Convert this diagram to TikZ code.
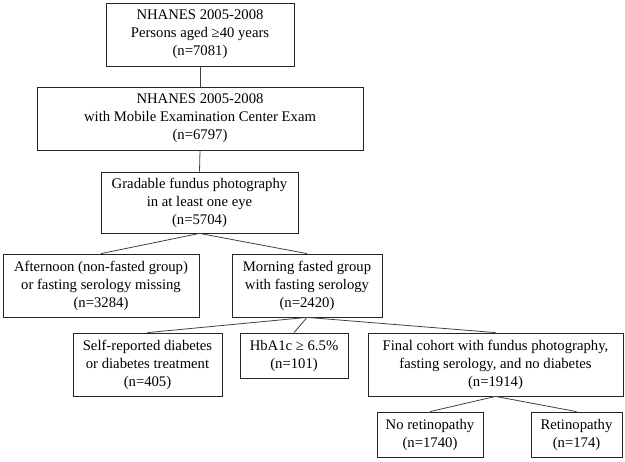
\documentclass[tikz,border=0pt]{standalone}
\usepackage{fontspec}
\setmainfont{Liberation Serif}
\begin{document}
\begin{tikzpicture}[x=1bp,y=-1bp,
  box/.style={draw=black!85, line width=0.8bp, align=center, inner sep=0pt,
    font=\fontsize{14.7bp}{18bp}\selectfont},
  link/.style={draw=black!75, line width=0.8bp}]
\useasboundingbox (0,0) rectangle (625,462);
\node[box, minimum width=188bp, minimum height=63bp] (b1) at (200,34.5)
  {NHANES 2005-2008\\Persons aged ≥40 years\\(n=7081)};
\node[box, minimum width=326bp, minimum height=63bp] (b2) at (200,118.5)
  {NHANES 2005-2008\\with Mobile Examination Center Exam\\(n=6797)};
\node[box, minimum width=197bp, minimum height=61bp] (b3) at (199.5,202.5)
  {Gradable fundus photography\\in at least one eye\\(n=5704)};
\node[box, minimum width=196bp, minimum height=63bp] (b4) at (101,285.5)
  {Afternoon (non-fasted group)\\or fasting serology missing\\(n=3284)};
\node[box, minimum width=150bp, minimum height=63bp] (b5) at (307,285.5)
  {Morning fasted group\\with fasting serology\\(n=2420)};
\node[box, minimum width=149bp, minimum height=63bp] (b6) at (147.5,364.5)
  {Self-reported diabetes\\or diabetes treatment\\(n=405)};
\node[box, minimum width=108bp, minimum height=45bp] (b7) at (294,355.5)
  {HbA1c ≥ 6.5\%\\(n=101)};
\node[box, minimum width=255bp, minimum height=63bp] (b8) at (495.5,364.5)
  {Final cohort with fundus photography,\\fasting serology, and no diabetes\\(n=1914)};
\node[box, minimum width=106bp, minimum height=45bp] (b9) at (430,434.5)
  {No retinopathy\\(n=1740)};
\node[box, minimum width=91bp, minimum height=45bp] (b10) at (576.5,434.5)
  {Retinopathy\\(n=174)};
\draw[link] (b1.south) -- (b2.north);
\draw[link] (b2.south) -- (b3.north);
\draw[link] (b3.south) -- (b4.north);
\draw[link] (b3.south) -- (b5.north);
\draw[link] (b5.south) -- (b6.north);
\draw[link] (b5.south) -- (b7.north);
\draw[link] (b5.south) -- (b8.north);
\draw[link] (b8.south) -- (b9.north);
\draw[link] (b8.south) -- (b10.north);
\end{tikzpicture}
\end{document}
